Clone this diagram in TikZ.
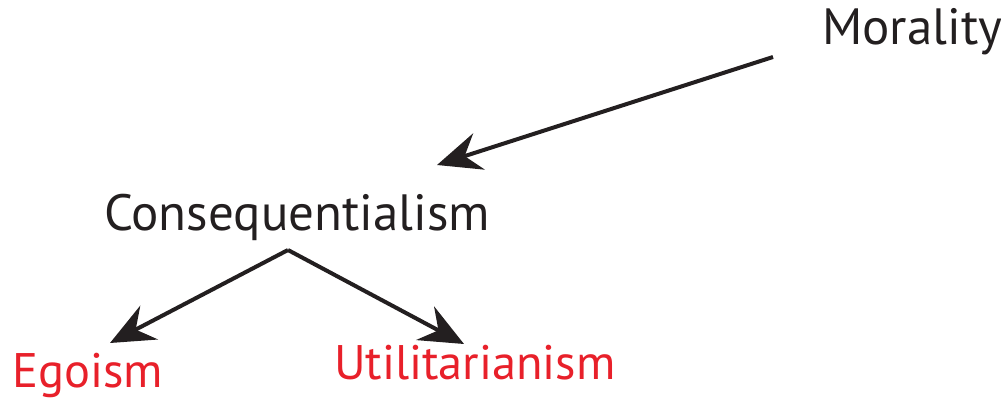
\documentclass[tikz,border=0pt]{standalone}
\usepackage{fontspec}
\setmainfont{PT Sans}
\usetikzlibrary{arrows.meta}
\definecolor{txtblack}{HTML}{231F20}
\definecolor{txtred}{HTML}{E8202A}
\tikzset{
  lbl/.style={anchor=base west, inner sep=0pt, text=txtblack, font=\fontsize{51}{60}\selectfont},
  redlbl/.style={lbl, text=txtred, font=\fontsize{48.5}{58}\selectfont},
  arr/.style={line width=4pt, draw=txtblack, -{Stealth[length=44pt,width=38pt,inset=15pt]}}
}
\begin{document}
\begin{tikzpicture}[x=1pt,y=-1pt]
\useasboundingbox (0,0) rectangle (1001,398);
\node[lbl] (mor) at (822,45) {Morality};
\node[lbl] (con) at (104,230) {Consequentialism};
\node[redlbl] (ego) at (12,387) {Egoism};
\node[redlbl] (uti) at (334,379) {Utilitarianism};
\coordinate (morout) at (773,57);
\coordinate (conin) at (437,165);
\coordinate (apex) at (288,250);
\coordinate (egoin) at (110,343);
\coordinate (utiin) at (464,344);
\draw[arr] (morout) -- (conin);
\draw[arr] (apex) -- (egoin);
\draw[arr] (apex) -- (utiin);
\end{tikzpicture}
\end{document}
